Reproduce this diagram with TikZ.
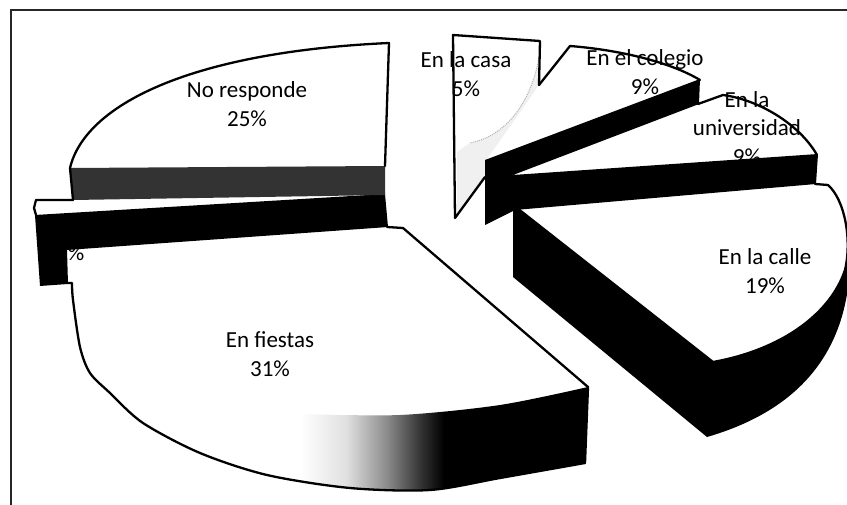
\documentclass[tikz,border=0pt]{standalone}
\usepackage{fontspec}
\setmainfont{Carlito}
\colorlet{shadeA}{black!12}
\colorlet{shadeB}{black!45}
\colorlet{shadeC}{black!80}
\pgfdeclarehorizontalshading{fiestaside}{100bp}{color(0bp)=(white); color(25bp)=(white); color(33bp)=(shadeA); color(40bp)=(shadeB); color(46bp)=(shadeC); color(50bp)=(black); color(100bp)=(black)}
\tikzset{
  frameln/.style={draw=black!85, line width=1.5pt},
  outl/.style={draw=black, line width=2.3pt, line join=round, line cap=round},
  slicetop/.style={fill=white},
  sideband/.style={fill=black},
  lbl/.style={font=\fontsize{23}{28.5}\selectfont, align=center, inner sep=0pt},
}
\begin{document}
\begin{tikzpicture}[x=1pt,y=-1pt]
\useasboundingbox (0,0) rectangle (847,505);
\clip (0,0) rectangle (847,505);
\fill[white] (0,0) rectangle (847,505);
% frame
\draw[frameln] (11,506) -- (11,10) -- (848,10);

% ---- En fiestas ----
\path[slicetop] (67,250) -- (387,227) -- (403,228) -- (588,387) -- (585,463)
  -- plot[smooth] coordinates {(585,463) (500,478) (430,490) (350,488) (267,475) (200,453) (143,423) (110,393) (90,373) (80,347) (73,300) (72,283)} -- cycle;
\shade[shading=fiestaside] plot[smooth] coordinates {(300,414) (400,415) (500,405) (588,387)}
  -- (585,463) -- plot[smooth] coordinates {(585,463) (500,478) (430,490) (350,488) (300,484)} -- cycle;
\draw[outl] (387,227) -- (403,228) -- (588,387) -- (585,463)
  -- plot[smooth] coordinates {(585,463) (500,478) (430,490) (350,488) (267,475) (200,453) (143,423) (110,393) (90,373) (80,347) (73,300) (72,283)} -- (68,283);

% ---- small slice ----
\fill[white] (35,200) -- (73,200) -- (385,195) -- (37,215) -- cycle;
\node[lbl] (pctsmall) at (76,253) {\%};
\fill[sideband] (35,215) -- (385,194) -- (388,227) -- (67,250) -- (68,284) -- (40,286) -- cycle;
\draw[outl] (73,200) -- (36,200) -- (34,208) -- (36,215);

% ---- No responde ----
\path[slicetop] (70,168) .. controls (85,105) and (190,52) .. (389,43) -- (385,166) -- cycle;
\fill[black!80] (70,168) -- (385,166) -- (385,195) -- (73,200) -- cycle;
\draw[outl] (385,166) -- (389,43) .. controls (190,52) and (85,105) .. (70,168) -- (73,200);

% ---- En la calle ----
\fill[sideband] (513,207) -- (513,277) -- (707,437) .. controls (800,410) and (852,350) .. (850,250) -- (845,250) -- cycle;
\path[slicetop] (517,208) -- (815,184) -- (828,185) .. controls (845,200) and (852,240) .. (845,270) .. controls (830,315) and (780,350) .. (713,362) -- cycle;
\draw[outl] (815,184) -- (828,185) .. controls (845,200) and (852,240) .. (845,270) .. controls (830,315) and (780,350) .. (713,362) -- (517,208);

% ---- En la casa, colegio, universidad : top faces ----
\path[slicetop] (453,35) -- (540,41) -- (539,85) -- (485,162) -- (485,177) -- (455,218) -- cycle;
\fill[black!6] (539,58) .. controls (530,105) and (505,136) .. (470,143) -- (457,152) -- (457,214) -- (485,177) -- (485,162) -- (539,85) -- cycle;
\draw[black!30, densely dotted, line width=1pt] (539,58) .. controls (530,105) and (505,136) .. (470,143);
\path[slicetop] (485,162) -- (570,46) .. controls (620,50) and (670,62) .. (700,80) -- cycle;
\path[slicetop] (513,175) -- (698,104) -- (723,95) .. controls (760,100) and (800,125) .. (817,155) -- cycle;

\node[lbl] (casalbl) at (466,74) {En la casa\\5\%};
\node[lbl] (colelbl) at (645,72) {En el colegio\\9\%};
\node[lbl] (univlbl) at (747,128) {En la\\universidad\\9\%};

\draw[outl] (485,177) -- (455,218) -- (453,35) -- (540,41) -- (539,85);
\draw[outl] (539,85) -- (570,46) .. controls (620,50) and (670,62) .. (700,80);
\draw[outl] (698,104) -- (723,95) .. controls (760,100) and (800,125) .. (817,155);

\fill[sideband] (485,160) -- (700,79) -- (699,104) -- (513,175) -- (818,154) -- (816,184) -- (515,210) -- (485,225) -- cycle;

% ---- remaining labels ----
\node[lbl] (nrlbl) at (247,104) {No responde\\25\%};
\node[lbl] (fiestalbl) at (270,354) {En fiestas\\31\%};
\node[lbl] (callelbl) at (765,271) {En la calle\\19\%};
\end{tikzpicture}
\end{document}
